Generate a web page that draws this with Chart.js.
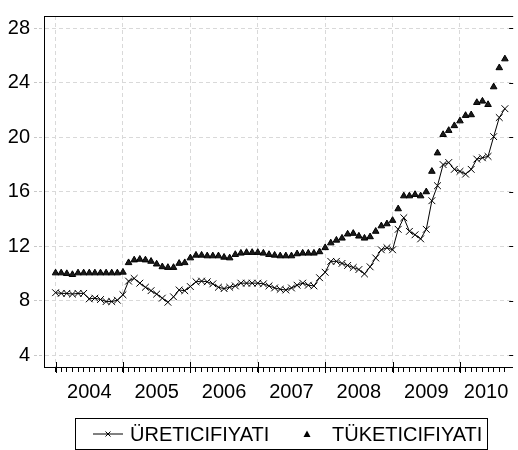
<!DOCTYPE html>
<html>
<head>
<meta charset="utf-8">
<script src="https://cdn.jsdelivr.net/npm/chart.js@4.4.1/dist/chart.umd.min.js"></script>
<style>
  html, body { margin: 0; padding: 0; background: #fff; }
</style>
</head>
<body>
<canvas id="chart" width="518" height="450"></canvas>
<script>
// monthly data, Jan 2004 .. Sep 2010
const years = ["2004", "2005", "2006", "2007", "2008", "2009", "2010"]
const yTicks = [4, 8, 12, 16, 20, 24, 28]
const seriesNames = ["ÜRETICIFIYATI", "TÜKETICIFIYATI"]

const uretici = [
  8.6, 8.55, 8.55, 8.5, 8.55, 8.55, 8.15, 8.2, 8.1, 7.95, 7.95, 8.05,
  8.45, 9.45, 9.65, 9.3, 9.0, 8.75, 8.5, 8.2, 7.9, 8.3, 8.8, 8.75,
  9.05, 9.4, 9.45, 9.4, 9.25, 9.0, 8.9, 9.0, 9.1, 9.3, 9.3, 9.3,
  9.3, 9.25, 9.1, 8.95, 8.85, 8.8, 8.95, 9.15, 9.3, 9.15, 9.1, 9.7,
  10.1, 10.9, 10.9, 10.75, 10.6, 10.45, 10.3, 9.98, 10.5, 11.15, 11.75, 11.9,
  11.75, 13.25, 14.1, 13.1, 12.85, 12.55, 13.25, 15.35, 16.45, 18.0, 18.15, 17.65,
  17.5, 17.3, 17.65, 18.4, 18.5, 18.6, 20.05, 21.45, 22.1,
]
const tuketici = [
  10.05, 10.05, 10.0, 9.93, 10.05, 10.05, 10.05, 10.05, 10.05, 10.05, 10.05, 10.05,
  10.1, 10.8, 11.0, 11.05, 11.0, 10.9, 10.7, 10.5, 10.45, 10.45, 10.75, 10.8,
  11.15, 11.35, 11.35, 11.3, 11.3, 11.3, 11.2, 11.15, 11.4, 11.5, 11.55, 11.55,
  11.55, 11.5, 11.4, 11.35, 11.3, 11.3, 11.3, 11.45, 11.5, 11.5, 11.5, 11.6,
  11.9, 12.25, 12.45, 12.6, 12.9, 12.95, 12.75, 12.6, 12.7, 13.1, 13.5, 13.65,
  13.9, 14.75, 15.7, 15.7, 15.8, 15.7, 16.0, 17.5, 18.85, 20.2, 20.5, 20.85,
  21.2, 21.6, 21.65, 22.55, 22.65, 22.4, 23.7, 25.1, 25.75,
]

const X_MIN = -2.06
const X_MAX = 81.3
const FONT = "'Liberation Sans', Arial, sans-serif"

// year label sits in the middle of the visible part of each year
const yearLabelPos = years.map((y, k) => (12 * k + Math.min(12 * k + 12, X_MAX)) / 2)

const frame = {
  id: "frame",
  afterDraw(chart) {
    const { ctx, chartArea: a, scales: { x, y } } = chart
    ctx.save()
    ctx.strokeStyle = "#000"
    ctx.lineWidth = 1
    ctx.beginPath()
    ctx.moveTo(a.left, Math.round(a.top) + 0.5)
    ctx.lineTo(a.right + 1, Math.round(a.top) + 0.5)
    // year ticks cross the axis
    years.forEach((yr, k) => {
      const px = Math.round(x.getPixelForValue(12 * k)) + 0.5
      ctx.moveTo(px, a.bottom - 5)
      ctx.lineTo(px, a.bottom + 6)
    })
    // small ticks on the right side
    yTicks.forEach(v => {
      const py = Math.round(y.getPixelForValue(v)) + 0.5
      ctx.moveTo(a.right - 3, py)
      ctx.lineTo(a.right + 1, py)
    })
    ctx.stroke()

    // legend box
    const bx = 75.5, by = 418.5, bw = 412, bh = 31
    ctx.strokeRect(bx, by, bw, bh)
    const cy = by + bh / 2
    ctx.beginPath()
    ctx.moveTo(93, cy)
    ctx.lineTo(123, cy)
    ctx.moveTo(105.5, cy - 2.5); ctx.lineTo(110.5, cy + 2.5)
    ctx.moveTo(105.5, cy + 2.5); ctx.lineTo(110.5, cy - 2.5)
    ctx.stroke()
    ctx.fillStyle = "#000"
    ctx.beginPath()
    ctx.moveTo(307, cy - 3.5)
    ctx.lineTo(310.5, cy + 3)
    ctx.lineTo(303.5, cy + 3)
    ctx.closePath()
    ctx.fill()
    ctx.font = "20px " + FONT
    ctx.textBaseline = "middle"
    ctx.textAlign = "left"
    ctx.fillText(seriesNames[0], 130, cy + 1)
    ctx.fillText(seriesNames[1], 332, cy + 1)
    ctx.restore()
  },
}

const ctx = document.getElementById("chart")

const chart = new Chart(ctx, {
  type: "line",
  data: {
    datasets: [
      {
        label: seriesNames[0],
        data: uretici.map((v, i) => ({ x: i, y: v })),
        borderColor: "#000",
        borderWidth: 1,
        pointStyle: "crossRot",
        pointRadius: 4.8,
        pointBorderWidth: 1,
        pointBorderColor: "#000",
        tension: 0,
      },
      {
        label: seriesNames[1],
        data: tuketici.map((v, i) => ({ x: i, y: v })),
        showLine: false,
        pointStyle: "triangle",
        pointRadius: 3.8,
        pointBorderWidth: 1,
        pointBackgroundColor: "#1a1a1a",
        pointBorderColor: "#000",
      },
    ],
  },
  options: {
    responsive: false,
    devicePixelRatio: 1,
    animation: false,
    layout: { padding: { top: 8, right: 1, left: 0, bottom: 0 } },
    plugins: { legend: { display: false }, tooltip: { enabled: false } },
    scales: {
      x: {
        type: "linear",
        min: X_MIN,
        max: X_MAX,
        afterBuildTicks(scale) {
          const t = uretici.map((v, i) => i)
          yearLabelPos.forEach(p => { if (!t.includes(p)) t.push(p) })
          t.sort((a, b) => a - b)
          scale.ticks = t.map(v => ({ value: v }))
        },
        afterFit(scale) { scale.height = 83 },
        ticks: {
          autoSkip: false,
          maxRotation: 0,
          padding: 8,
          color: "#000",
          font: { family: FONT, size: 20 },
          callback(value) {
            const k = yearLabelPos.indexOf(value)
            return k >= 0 ? years[k] : ""
          },
        },
        grid: {
          color: c => (c.tick && c.tick.value % 12 === 0 ? "#d9d9d9" : "rgba(0,0,0,0)"),
          tickColor: c => (c.tick && Number.isInteger(c.tick.value) ? "#000" : "rgba(0,0,0,0)"),
          tickLength: 5,
          lineWidth: 1,
        },
        border: { color: "#000", width: 1, dash: [4, 3] },
      },
      y: {
        min: 3.15,
        max: 28.9,
        afterBuildTicks(scale) { scale.ticks = yTicks.map(v => ({ value: v })) },
        afterFit(scale) { scale.width = 44 },
        ticks: {
          padding: 4,
          color: "#000",
          font: { family: FONT, size: 20 },
        },
        grid: {
          color: "#d9d9d9",
          tickColor: "#c8c8c8",
          tickLength: 10,
          tickBorderDash: [3, 2],
        },
        border: { color: "#000", width: 1, dash: [4, 3] },
      },
    },
  },
  plugins: [frame],
})
</script>
</body>
</html>
